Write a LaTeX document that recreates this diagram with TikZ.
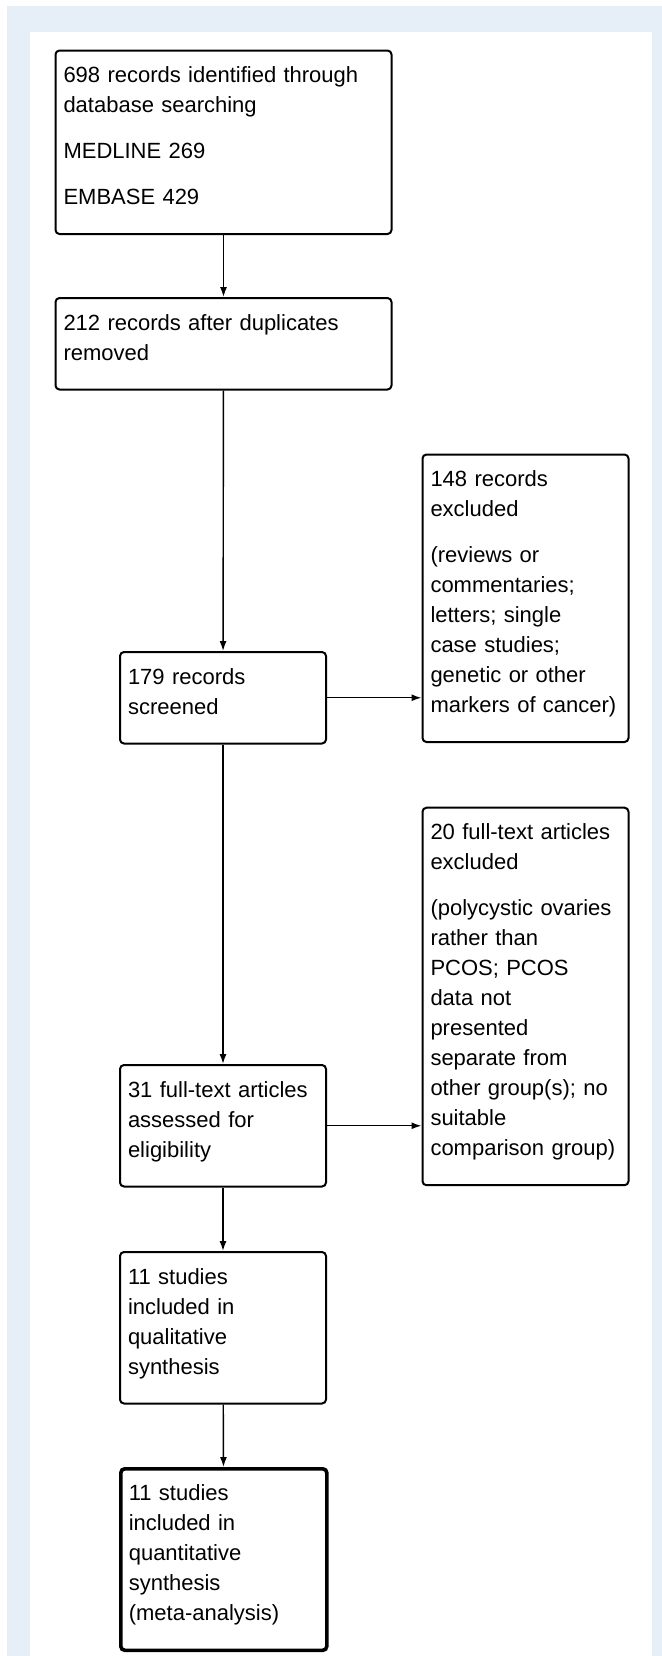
\documentclass[tikz,border=0pt]{standalone}
\usepackage{fontspec}
\setmainfont{Liberation Sans}
\usepackage{xcolor}
\usepackage{tikz}
\usetikzlibrary{arrows.meta, positioning}
\definecolor{panelblue}{RGB}{230,238,248}

\begin{document}
\begin{tikzpicture}[
  x=0.5pt, y=-0.5pt,
  stage/.style={draw, rounded corners=2pt, line width=1pt, anchor=north west, align=left,
    inner xsep=4pt, inner ysep=5.5pt, font=\fontsize{11}{15}\selectfont,
    execute at begin node=\rule{0pt}{10.5pt},
    execute at end node=\rule[-9.25pt]{0pt}{9.25pt}},
  wide/.style={stage, text width=160pt},
  narrow/.style={stage, text width=95pt},
  every edge/.style={draw, -{Latex[length=5pt, width=3.5pt]}, line width=0.7pt},
]
  \useasboundingbox (0,0) rectangle (662,1656);
  \fill[white] (0,0) rectangle (662,1656);
  \fill[panelblue] (7,6) rectangle (662,1656);
  \fill[white] (30,32) rectangle (652,1656);

  \node[wide] (identified) at (54.5,49.5) {698 records identified through\\ database searching\\[8pt] MEDLINE 269\\[8pt] EMBASE 429};
  \node[wide] (deduped) at (54.5,297) {212 records after duplicates\\ removed};
  \node[narrow] (screened) at (119,651) {179 records\\ screened};
  \node[narrow] (excluded) at (421.5,453.5) {148 records\\ excluded\\[8pt] (reviews or\\ commentaries;\\ letters; single\\ case studies;\\ genetic or other\\ markers of cancer)};
  \node[narrow] (fulltext) at (119,1064) {31 full-text articles\\ assessed for\\ eligibility};
  \node[narrow] (rejected) at (421.5,806.7) {20 full-text articles\\ excluded\\[8pt] (polycystic ovaries\\ rather than\\ PCOS; PCOS\\ data not\\ presented\\ separate from\\ other group(s); no\\ suitable\\ comparison group)};
  \node[narrow] (qualitative) at (119,1251) {11 studies\\ included in\\ qualitative\\ synthesis};
  \node[narrow, line width=1.8pt] (quantitative) at (119,1467) {11 studies\\ included in\\ quantitative\\ synthesis\\ (meta-analysis)};

  \draw (identified) edge (deduped);
  \draw (deduped) edge (screened);
  \draw (screened) edge (fulltext);
  \draw (fulltext) edge (qualitative);
  \draw (qualitative) edge (quantitative);
  \draw (screened.east) edge (screened.east -| excluded.west);
  \draw (fulltext.east) edge (fulltext.east -| rejected.west);
\end{tikzpicture}
\end{document}
